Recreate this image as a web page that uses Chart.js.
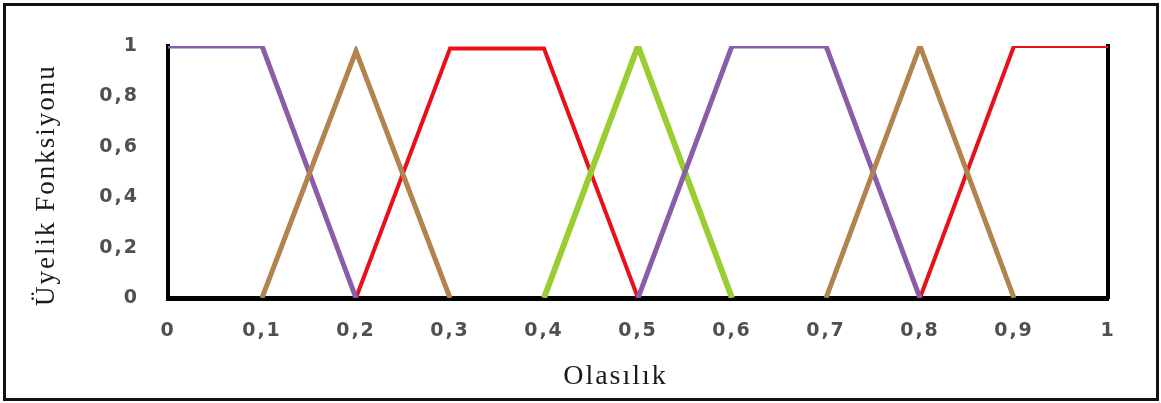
<!DOCTYPE html>
<html>
<head>
<meta charset="utf-8">
<script src="https://cdn.jsdelivr.net/npm/chart.js@4.4.1/dist/chart.umd.min.js"></script>
<style>
  html, body { margin: 0; padding: 0; background: #fff; }
  #wrap { position: relative; width: 1161px; height: 403px; }
  #frame { position: absolute; left: 3px; top: 3px; width: 1156px; height: 398px; border: 3px solid #111; box-sizing: border-box; pointer-events: none; }
</style>
</head>
<body>
<div id="wrap">
  <canvas id="c" width="1161" height="403"></canvas>
  <div id="frame"></div>
</div>
<script>
// ---- data ----
const xTickLabels = ['0', '0,1', '0,2', '0,3', '0,4', '0,5', '0,6', '0,7', '0,8', '0,9', '1'];
const yTickLabels = ['0', '0,2', '0,4', '0,6', '0,8', '1'];

const purpleX = [0, 0.1, 0.2, 0.35, 0.5, 0.6, 0.7, 0.8];
const purpleY = [1, 1, 0, null, 0, 1, 1, 0];

const brownX = [0.1, 0.2, 0.3, 0.5, 0.7, 0.8, 0.9];
const brownY = [0, 0.98, 0, null, 0, 1, 0];

const redX = [0.2, 0.3, 0.4, 0.5, 0.65, 0.8, 0.9, 1];
const redY = [0, 0.99, 0.99, 0, null, 0, 1, 1];

const greenX = [0.4, 0.5, 0.6];
const greenY = [0, 1, 0];

function pts(xs, ys) { return xs.map((x, i) => ({ x: x, y: ys[i] })); }

const spacing = {
  id: 'spacing',
  beforeUpdate(chart) { chart.ctx.letterSpacing = '2px'; },
  beforeLayout(chart) { chart.ctx.letterSpacing = '2px'; },
  beforeDraw(chart) { chart.ctx.letterSpacing = '2px'; }
};

function line(data, color, width) {
  return { data: data, borderColor: color, borderWidth: width, pointRadius: 0, tension: 0,
           fill: false, spanGaps: false, borderJoinStyle: 'miter', borderCapStyle: 'butt' };
}

new Chart(document.getElementById('c'), {
  type: 'line',
  data: {
    datasets: [
      line(pts(brownX, brownY), '#B3834F', 5),
      line(pts(purpleX, purpleY), '#8B5CA8', 5),
      line(pts(greenX, greenY), '#9ACD32', 6),
      line(pts(redX, redY), '#E8101A', 4)
    ]
  },
  options: {
    responsive: false,
    animation: false,
    devicePixelRatio: 1,
    layout: { padding: { left: 0, right: 0, top: 46, bottom: 0 } },
    plugins: { legend: { display: false }, tooltip: { enabled: false } },
    scales: {
      x: {
        type: 'linear', min: 0, max: 1,
        grid: { display: false, drawTicks: false },
        border: { display: true, color: '#000', width: 5 },
        ticks: {
          stepSize: 0.1, autoSkip: false, maxRotation: 0, padding: 22,
          color: '#505050', font: { family: 'DejaVu Sans', weight: 'bold', size: 19 },
          callback: (v, i) => xTickLabels[i]
        },
        title: { display: true, text: 'Olasılık     ', color: '#1a1a1a',
                 font: { family: 'Liberation Serif', size: 28 }, padding: { top: 0, bottom: 10 } },
        afterFit: (s) => { s.height = 105; }
      },
      y: {
        min: 0, max: 1,
        grid: { display: false, drawTicks: false },
        border: { display: true, color: '#000', width: 4 },
        ticks: {
          stepSize: 0.2, padding: 29,
          color: '#505050', font: { family: 'DejaVu Sans', weight: 'bold', size: 19 },
          callback: (v, i) => yTickLabels[i]
        },
        title: { display: true, text: 'Üyelik Fonksiyonu   ', color: '#1a1a1a',
                 font: { family: 'Liberation Serif', size: 27 }, padding: { top: 31, bottom: 0 } },
        afterFit: (s) => { s.width = 168; }
      },
      y2: {
        position: 'right', min: 0, max: 1,
        grid: { display: false, drawTicks: false },
        border: { display: true, color: '#000', width: 4 },
        ticks: { display: false },
        afterFit: (s) => { s.width = 53; }
      }
    }
  },
  plugins: [spacing]
});
</script>
</body>
</html>
